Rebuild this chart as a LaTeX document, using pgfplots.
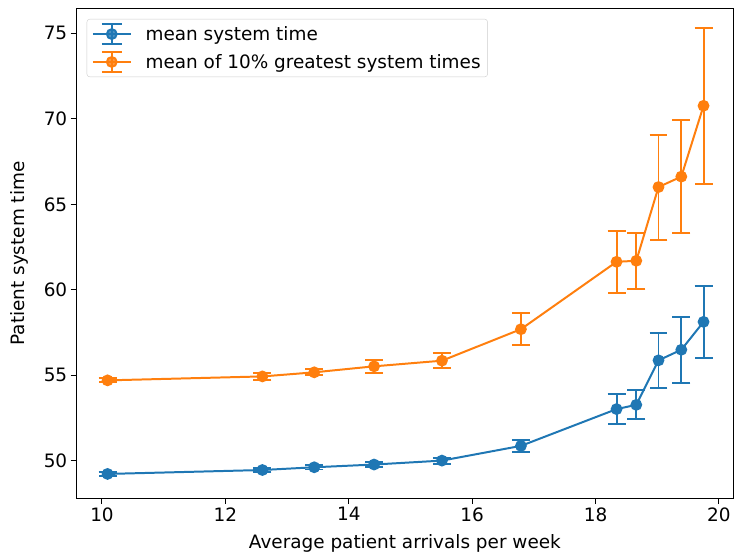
\documentclass[border=0pt]{standalone}
\usepackage{pgfplots}
\pgfplotsset{compat=1.18}
\usepackage{fontspec}
\setmainfont{DejaVu Sans}
\definecolor{c0}{RGB}{31,119,180}
\definecolor{c1}{RGB}{255,127,14}
\begin{document}
\begin{tikzpicture}
\begin{axis}[
  scale only axis, width=659pt, height=491pt,
  xmin=9.59, xmax=20.23, ymin=47.83, ymax=76.42,
  xtick={10,12,...,20}, ytick={50,55,...,75},
  tick pos=left, tick align=outside, major tick length=6pt,
  every tick/.style={black, line width=1pt},
  axis line style={line width=1pt, black},
  /pgf/number format/assume math mode=true,
  tick label style={font=\fontsize{18.5}{22}\selectfont},
  label style={font=\fontsize{18.5}{22}\selectfont},
  xlabel={Average patient arrivals per week},
  ylabel={Patient system time},
  xlabel style={at={(axis description cs:0.5,-0.0937)}, anchor=center},
  ylabel style={at={(axis description cs:-0.0865,0.5)}, anchor=center},
  legend style={at={(axis description cs:0,1)}, anchor=north west,
    xshift=10pt, yshift=-10pt, draw=black!20, rounded corners=3pt,
    fill=white, fill opacity=0.8, text opacity=1,
    font=\fontsize{18.5}{22}\selectfont, inner xsep=5pt, inner ysep=4pt,
    row sep=6pt,
    /tikz/every odd column/.append style={column sep=12pt}},
  legend cell align=left,
  legend image code/.code={
    \draw[#1, mark=none] (0pt,0pt) -- (38pt,0pt);
    \draw[#1, mark=none] (19pt,-10pt) -- (19pt,10pt) (9pt,-10pt) -- (29pt,-10pt) (9pt,10pt) -- (29pt,10pt);
    \draw[#1] plot coordinates {(19pt,0pt)};
  },
]
\addplot[c0, line width=2pt, mark=*, mark size=4.9pt,
  error bars/.cd, y dir=both, y explicit,
  error bar style={line width=2pt},
  error mark options={rotate=90, mark size=9pt, line width=2pt}]
  table[x=x, y=y, y error=e] {
x y e
10.09 49.24 0.12
12.60 49.47 0.13
13.44 49.63 0.13
14.41 49.79 0.15
15.51 50.02 0.17
16.79 50.88 0.35
18.34 53.03 0.86
18.66 53.28 0.84
19.02 55.88 1.62
19.39 56.50 1.92
19.75 58.13 2.11
};
\addlegendentry{mean system time}
\addplot[c1, line width=2pt, mark=*, mark size=4.9pt,
  error bars/.cd, y dir=both, y explicit,
  error bar style={line width=2pt},
  error mark options={rotate=90, mark size=9pt, line width=2pt}]
  table[x=x, y=y, y error=e] {
x y e
10.09 54.71 0.12
12.60 54.94 0.20
13.44 55.18 0.17
14.41 55.53 0.39
15.51 55.86 0.43
16.79 57.70 0.95
18.34 61.64 1.80
18.66 61.70 1.64
19.02 66.01 3.07
19.39 66.62 3.30
19.75 70.76 4.55
};
\addlegendentry{mean of 10\% greatest system times}
\end{axis}
\path[use as bounding box] ([shift={(-77pt,-60pt)}]current axis.south west) rectangle ([shift={(-2pt,9pt)}]current axis.north east);
\end{tikzpicture}
\end{document}
